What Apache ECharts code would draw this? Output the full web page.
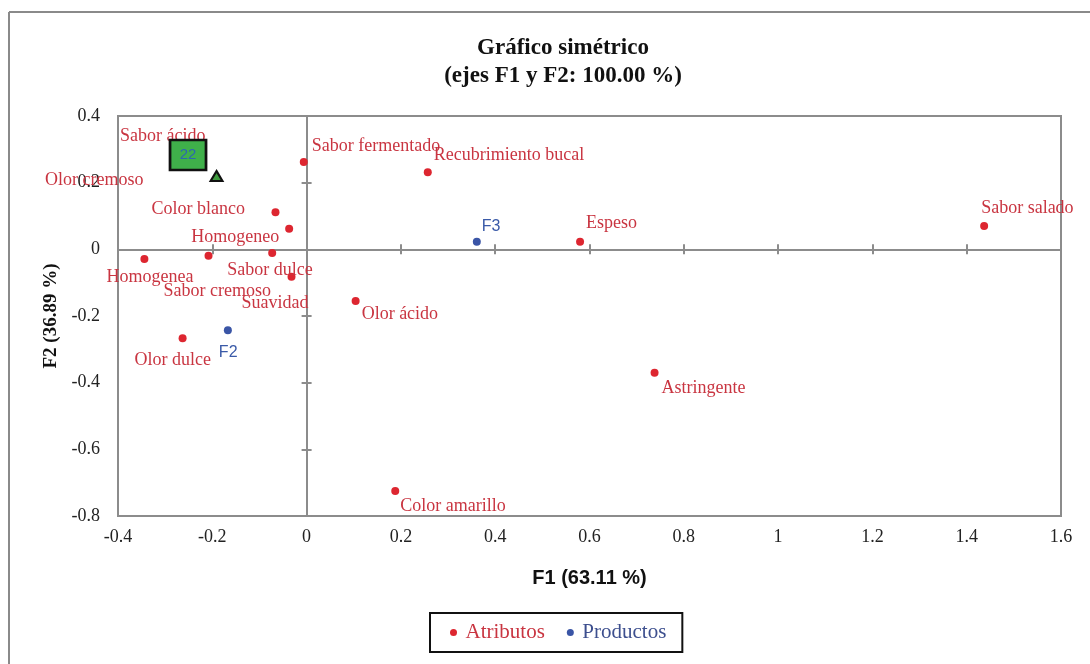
<!DOCTYPE html>
<html>
<head>
<meta charset="utf-8">
<script src="https://cdn.jsdelivr.net/npm/echarts@6/dist/echarts.min.js"></script>
<style>
  html, body { margin: 0; padding: 0; background: #fff; }
  #chart { width: 1090px; height: 664px; }
</style>
</head>
<body>
<div id="chart"></div>
<script>
// ---- Data ----
const attrNames = ['Sineresis', 'Sabor ácido', 'Olor cremoso', 'Sabor fermentado', 'Recubrimiento bucal',
  'Color blanco', 'Homogeneo', 'Homogenea', 'Sabor cremoso', 'Sabor dulce', 'Suavidad', 'Olor dulce',
  'Olor ácido', 'Espeso', 'Sabor salado', 'Astringente', 'Color amarillo'];
const attrF1 = [-0.009, -0.241, -0.258, -0.006, 0.257, -0.066, -0.037, -0.344, -0.208, -0.073, -0.032, -0.263,
  0.104, 0.580, 1.437, 0.738, 0.188];
const attrF2 = [0.402, 0.292, 0.268, 0.262, 0.231, 0.111, 0.062, -0.029, -0.019, -0.011, -0.082, -0.267,
  -0.155, 0.023, 0.070, -0.370, -0.725];

const prodNames = ['F2', 'F3'];
const prodF1 = [-0.167, 0.361];
const prodF2 = [-0.243, 0.023];

// overlaid marks (green triangle and green box labelled "22")
const markF1 = [-0.191];
const markF2 = [0.220];
const boxF1 = [-0.2515];
const boxF2 = [0.283];
const boxText = ['22'];

const titleLines = ['Gráfico simétrico', '(ejes F1 y F2: 100.00 %)'];
const xName = 'F1 (63.11 %)';
const yName = 'F2 (36.89 %)';
const legendNames = ['Atributos', 'Productos'];

// ---- Layout / style (label offsets in px relative to the point) ----
const labelOffsets = {
  'Sineresis': [-100, -15], 'Sabor ácido': [-73, -16], 'Olor cremoso': [-140, 20],
  'Sabor fermentado': [8, -16], 'Recubrimiento bucal': [6, -17], 'Color blanco': [-124, -3],
  'Homogeneo': [-98, 9], 'Homogenea': [-38, 18], 'Sabor cremoso': [-45, 36], 'Sabor dulce': [-45, 17],
  'Suavidad': [-50, 27], 'Olor dulce': [-48, 22], 'Olor ácido': [6, 13], 'Espeso': [6, -18],
  'Sabor salado': [-3, -18], 'Astringente': [7, 16], 'Color amarillo': [5, 15],
  'F2': [-9, 22], 'F3': [5, -15]
};

const RED = '#dd2630', RED_TXT = '#c93541', BLUE = '#3a55a6', BLUE_TXT = '#3a5aa8', GRAY = '#8c8c8c';
const SERIF = '"Liberation Serif", "DejaVu Serif", serif';
const SANS = '"Liberation Sans", Arial, sans-serif';

function pts(names, xs, ys, color, font, size) {
  return names.map((n, i) => ({
    name: n,
    value: [xs[i], ys[i]],
    label: {
      show: true, formatter: '{b}', position: 'inside', align: 'left', verticalAlign: 'middle',
      offset: labelOffsets[n] || [5, -12], color: color, fontFamily: font, fontSize: size
    }
  }));
}

const xBase = { type: 'value', min: -0.4, max: 1.6, interval: 0.2, gridIndex: 0, splitLine: { show: false } };
const yBase = { type: 'value', min: -0.8, max: 0.4, interval: 0.2, gridIndex: 0, splitLine: { show: false } };

const chart = echarts.init(document.getElementById('chart'), null, { renderer: 'canvas' });
chart.setOption({
  animation: false,
  backgroundColor: '#ffffff',
  title: {
    text: titleLines.join('\n'),
    left: 558, top: 29, textAlign: 'center',
    textStyle: { fontFamily: SERIF, fontWeight: 'bold', fontSize: 23, lineHeight: 28, color: '#111' }
  },
  graphic: [
    { type: 'line', shape: { x1: 9, y1: 12, x2: 1090, y2: 12 }, style: { stroke: '#8a8a8a', lineWidth: 2 } },
    { type: 'line', shape: { x1: 9, y1: 12, x2: 9, y2: 664 }, style: { stroke: '#8a8a8a', lineWidth: 2 } }
  ],
  grid: { left: 118, right: 29, top: 116, bottom: 148, show: true, borderColor: GRAY, borderWidth: 2, backgroundColor: 'transparent' },
  legend: {
    data: [
      { name: legendNames[0], textStyle: { color: RED_TXT } },
      { name: legendNames[1], textStyle: { color: '#3d4f8e' } }
    ],
    left: 430, top: 613, orient: 'horizontal',
    icon: 'circle', itemWidth: 14, itemHeight: 7, itemGap: 22,
    padding: [9, 16, 9, 20],
    borderColor: '#111', borderWidth: 2,
    textStyle: { fontFamily: SERIF, fontSize: 21 }
  },
  xAxis: [
    Object.assign({}, xBase, { position: 'bottom', axisLine: { onZero: true, lineStyle: { color: GRAY, width: 2 } },
      axisTick: { show: true, inside: true, length: 5, lineStyle: { color: GRAY, width: 2 } }, axisLabel: { show: false } }),
    Object.assign({}, xBase, { position: 'bottom', axisLine: { show: false, onZero: true },
      axisTick: { show: true, inside: false, length: 5, lineStyle: { color: GRAY, width: 2 } }, axisLabel: { show: false } }),
    Object.assign({}, xBase, { position: 'bottom', axisLine: { show: false, onZero: false }, axisTick: { show: false },
      axisLabel: { show: true, margin: 12, color: '#222', fontFamily: SERIF, fontSize: 18 },
      name: xName, nameLocation: 'middle', nameGap: 52,
      nameTextStyle: { fontFamily: SANS, fontWeight: 'bold', fontSize: 20, color: '#111' } })
  ],
  yAxis: [
    Object.assign({}, yBase, { position: 'left', axisLine: { onZero: true, lineStyle: { color: GRAY, width: 2 } },
      axisTick: { show: true, inside: true, length: 5, lineStyle: { color: GRAY, width: 2 } }, axisLabel: { show: false } }),
    Object.assign({}, yBase, { position: 'left', axisLine: { show: false, onZero: true },
      axisTick: { show: true, inside: false, length: 5, lineStyle: { color: GRAY, width: 2 } }, axisLabel: { show: false } }),
    Object.assign({}, yBase, { position: 'left', axisLine: { show: false, onZero: false }, axisTick: { show: false },
      axisLabel: { show: true, margin: 18, color: '#222', fontFamily: SERIF, fontSize: 18 },
      name: yName, nameLocation: 'middle', nameGap: 55,
      nameTextStyle: { fontFamily: SERIF, fontWeight: 'bold', fontSize: 19, color: '#111' } })
  ],
  series: [
    {
      name: legendNames[0], type: 'scatter', xAxisIndex: 0, yAxisIndex: 0,
      symbol: 'circle', symbolSize: 8, itemStyle: { color: RED, opacity: 1 },
      data: pts(attrNames, attrF1, attrF2, RED_TXT, SERIF, 18), z: 2
    },
    {
      name: legendNames[1], type: 'scatter', xAxisIndex: 0, yAxisIndex: 0,
      symbol: 'circle', symbolSize: 8, itemStyle: { color: BLUE, opacity: 1 },
      data: pts(prodNames, prodF1, prodF2, BLUE_TXT, SANS, 16), z: 2
    },
    {
      name: 'marca', type: 'scatter', xAxisIndex: 0, yAxisIndex: 0,
      symbol: 'triangle', symbolSize: [12, 10],
      itemStyle: { color: '#3f9b3f', borderColor: '#111', borderWidth: 2, opacity: 1 },
      data: markF1.map((v, i) => [v, markF2[i]]), z: 3
    },
    {
      name: 'caja', type: 'scatter', xAxisIndex: 0, yAxisIndex: 0,
      symbol: 'rect', symbolSize: [36, 30],
      itemStyle: { color: '#3fb04a', borderColor: '#111', borderWidth: 2.5, opacity: 1 },
      label: { show: true, position: 'inside', formatter: (p) => boxText[p.dataIndex], color: '#2d67b0', fontFamily: SANS, fontSize: 15 },
      data: boxF1.map((v, i) => [v, boxF2[i]]), z: 10
    }
  ]
});
</script>
</body>
</html>
